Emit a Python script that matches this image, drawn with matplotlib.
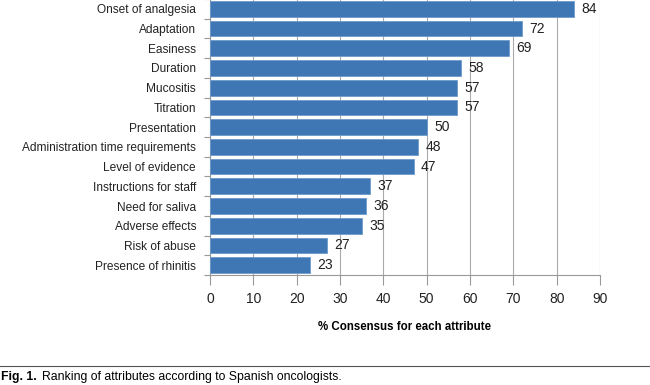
import matplotlib
matplotlib.use("Agg")
import matplotlib.pyplot as plt

plt.rcParams['font.family'] = ['Liberation Sans', 'DejaVu Sans']

categories = ["Onset of analgesia", "Adaptation", "Easiness", "Duration", "Mucositis",
              "Titration", "Presentation", "Administration time requirements",
              "Level of evidence", "Instructions for staff", "Need for saliva",
              "Adverse effects", "Risk of abuse", "Presence of rhinitis"]
values = [84, 72, 69, 58, 57, 57, 50, 48, 47, 37, 36, 35, 27, 23]
xticks = [0, 10, 20, 30, 40, 50, 60, 70, 80, 90]

fig = plt.figure(figsize=(6.5, 3.85), dpi=100)
ax = fig.add_axes([210/650, 1 - 275/385, 390/650, 276/385])

n = len(categories)
ypos = list(range(n))
ax.barh(ypos, values, height=0.8, color="#3e77b4", edgecolor="#6e9bcc", linewidth=0.6, zorder=3)
for y, v in zip(ypos, values):
    ax.text(v + 1.7, y, f"{v}", va="center", ha="left", fontsize=10, color="#222222", zorder=4)

ax.set_ylim(n - 0.5, -0.5)
ax.set_xlim(0, 90)
ax.set_xticks(xticks)
ax.set_xticklabels([str(t) for t in xticks], fontsize=10, color="#222222")
ax.set_yticks(ypos)
ax.set_yticklabels(categories, fontsize=8.6, color="#222222")
ax.set_yticks([i + 0.5 for i in range(-1, n)], minor=True)
ax.tick_params(axis='y', which='major', length=0, pad=10)
ax.tick_params(axis='y', which='minor', length=4, color="#999999", width=0.8)
ax.tick_params(axis='x', which='major', length=7, color="#999999", width=0.8, pad=5)
ax.grid(axis='x', color="#aaaaaa", linewidth=0.8, zorder=0)
for s in ['top', 'right']:
    ax.spines[s].set_visible(False)
for s in ['left', 'bottom']:
    ax.spines[s].set_color("#999999")
    ax.spines[s].set_linewidth(0.8)
ax.set_xlabel("% Consensus for each attribute", fontsize=8.3, fontweight='bold', labelpad=11)

fig.add_artist(plt.Line2D([0, 1], [1 - 366/385, 1 - 366/385], color="#555555", linewidth=0.8))
t1 = fig.text(1/650, 1 - 377/385, "Fig. 1.", fontsize=8.8, fontweight='bold', va='center', ha='left')
fig.canvas.draw()
bb = t1.get_window_extent()
x2 = (bb.x1 + 5) / fig.bbox.width
fig.text(x2, 1 - 377/385, "Ranking of attributes according to Spanish oncologists.",
         fontsize=8.8, va='center', ha='left')

fig.savefig("out.png", dpi=100)
